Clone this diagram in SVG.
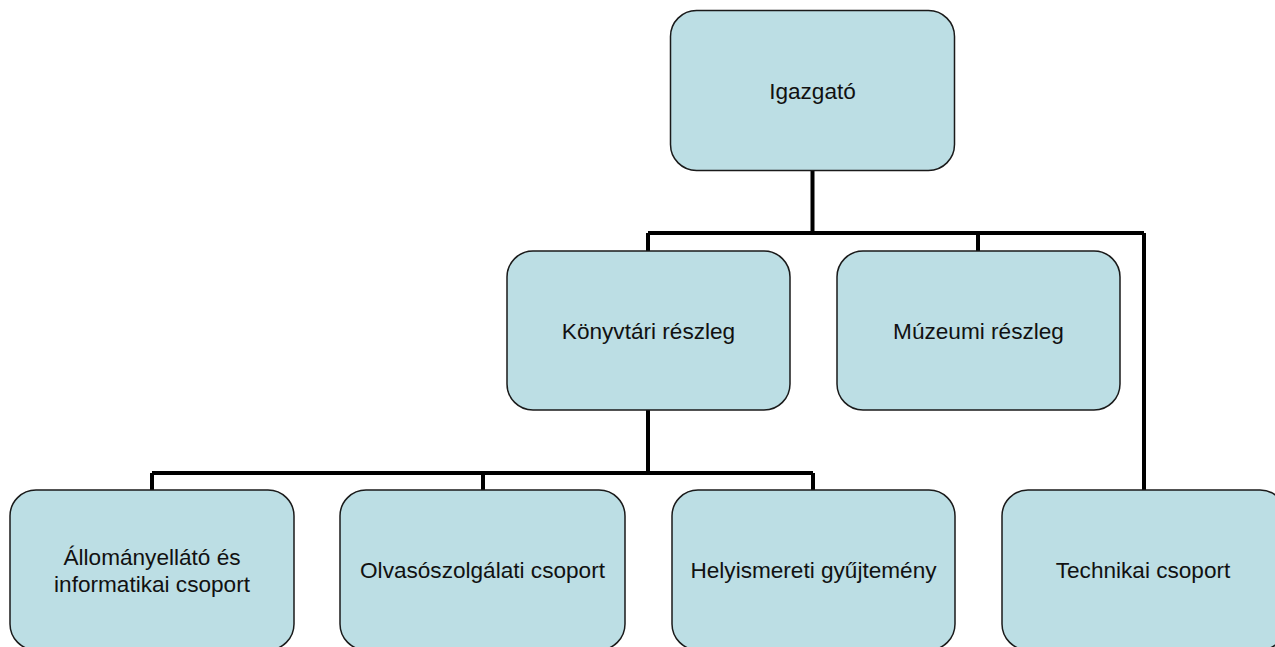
<svg xmlns="http://www.w3.org/2000/svg" width="1275" height="647" viewBox="0 0 1275 647">
<style>
.box{fill:#bcdee4;stroke:#1a1a1a;stroke-width:1.5}
.lbl{font-family:"Liberation Sans",Arial,sans-serif;font-size:22.6px;fill:#111;text-anchor:middle}
.conn{fill:none;stroke:#000;stroke-width:4}
</style>
<rect width="1275" height="647" fill="#fff"/>
<g id="connectors">
<path class="conn" d="M812.5 171V233M648 233H1144M648 233V251M978 233V251M1144 233V490"/>
<path class="conn" d="M648 410V473M152 473H813M152 473V490M483 473V490M813 473V490"/>
</g>
<g id="igazgato"><rect class="box" x="670.5" y="10.5" width="284" height="160" rx="26"/><text class="lbl" x="812.5" y="99">Igazgató</text></g>
<g id="konyvtari"><rect class="box" x="507" y="251" width="283" height="159" rx="26"/><text class="lbl" x="648.5" y="339">Könyvtári részleg</text></g>
<g id="muzeumi"><rect class="box" x="837" y="251" width="283" height="159" rx="26"/><text class="lbl" x="978.5" y="339">Múzeumi részleg</text></g>
<g id="allomany"><rect class="box" x="10" y="490" width="284" height="160" rx="26"/><text class="lbl" x="152" y="565">Állományellátó és</text><text class="lbl" x="152" y="592">informatikai csoport</text></g>
<g id="olvaso"><rect class="box" x="340" y="490" width="285" height="160" rx="26"/><text class="lbl" x="482.5" y="578">Olvasószolgálati csoport</text></g>
<g id="helyismereti"><rect class="box" x="672" y="490" width="283" height="160" rx="26"/><text class="lbl" x="813.5" y="578">Helyismereti gyűjtemény</text></g>
<g id="technikai"><rect class="box" x="1002" y="490" width="284" height="160" rx="26"/><text class="lbl" x="1143" y="578">Technikai csoport</text></g>
</svg>
